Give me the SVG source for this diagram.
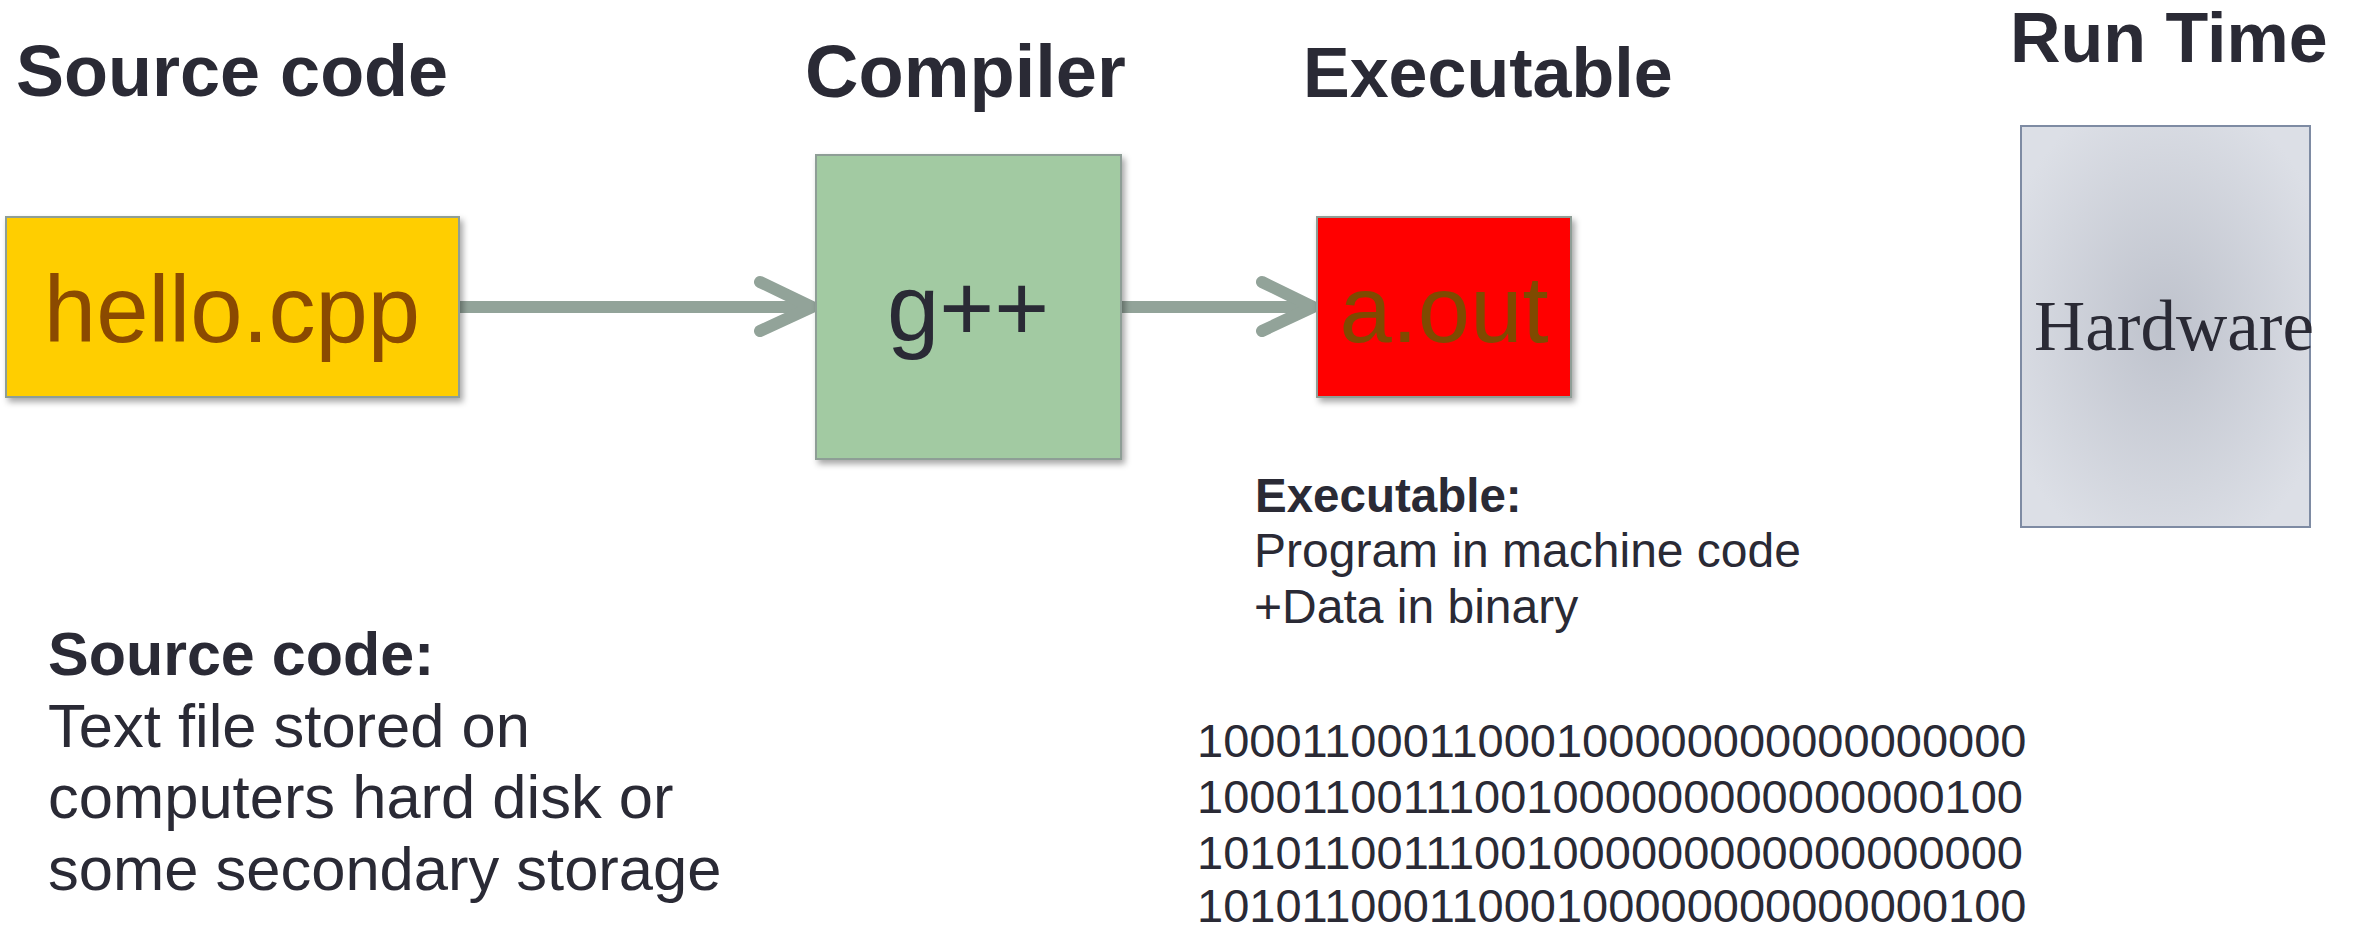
<svg xmlns="http://www.w3.org/2000/svg" width="2359" height="927" viewBox="0 0 2359 927">
  <style>
    .title { font-family: "Liberation Sans", Arial, sans-serif; font-weight: bold; fill: #2A2A35; }
    .body { font-family: "Liberation Sans", Arial, sans-serif; fill: #2A2A35; }
    .boxlbl { font-family: "Liberation Sans", Arial, sans-serif; font-size: 94px; text-anchor: middle; }
    .box { stroke: #8E9E96; stroke-width: 2; filter: url(#shadow); }
    .conn { stroke: #92A399; stroke-width: 12; fill: none; stroke-linecap: round; stroke-linejoin: round; }
  </style>
  <defs>
    <filter id="shadow" x="-10%" y="-10%" width="130%" height="130%">
      <feDropShadow dx="3" dy="4" stdDeviation="3" flood-color="#000000" flood-opacity="0.35"/>
    </filter>
    <radialGradient id="hwgrad" cx="50%" cy="50%" r="60%">
      <stop offset="0" stop-color="#BEC2CC"/>
      <stop offset="1" stop-color="#DCDFE6"/>
    </radialGradient>
  </defs>
  <rect width="2359" height="927" fill="#FFFFFF"/>

  <g id="titles">
    <text class="title" x="16" y="96" font-size="72">Source code</text>
    <text class="title" x="805" y="97" font-size="74">Compiler</text>
    <text class="title" x="1303" y="97" font-size="70">Executable</text>
    <text class="title" x="2010" y="62" font-size="70">Run Time</text>
  </g>

  <g id="connectors">
    <path class="conn" d="M458,307 H808" stroke-linecap="butt"/>
    <path class="conn" d="M760,282 L812,307 L760,331"/>
    <path class="conn" d="M1121,307 H1309" stroke-linecap="butt"/>
    <path class="conn" d="M1262,282 L1313,307 L1262,331"/>
  </g>

  <g id="node-source">
    <rect class="box" x="6" y="217" width="453" height="180" fill="#FFCE00"/>
    <text class="boxlbl" x="232" y="342" fill="#8B4A00">hello.cpp</text>
  </g>

  <g id="node-compiler">
    <rect class="box" x="816" y="155" width="305" height="304" fill="#A2CAA2"/>
    <text class="boxlbl" x="968" y="340" fill="#2A2A35">g++</text>
  </g>

  <g id="node-executable">
    <rect class="box" x="1317" y="217" width="254" height="180" fill="#FF0000"/>
    <text class="boxlbl" x="1444" y="342" fill="#7F4A00">a.out</text>
  </g>

  <g id="node-hardware">
    <rect x="2021" y="126" width="289" height="401" fill="url(#hwgrad)" stroke="#7E8BA3" stroke-width="2"/>
    <text x="2174" y="350" font-family="'Liberation Serif', 'Times New Roman', serif" font-size="71" text-anchor="middle" fill="#2A2A35">Hardware</text>
  </g>

  <g id="source-note">
    <text class="title" x="48" y="675" font-size="61">Source code:</text>
    <text class="body" x="48" y="747" font-size="61.5">Text file stored on</text>
    <text class="body" x="48" y="818" font-size="61.5">computers hard disk or</text>
    <text class="body" x="48" y="890" font-size="61.5">some secondary storage</text>
  </g>

  <g id="exec-note">
    <text class="title" x="1255" y="512" font-size="47.5">Executable:</text>
    <text class="body" x="1254" y="567" font-size="48">Program in machine code</text>
    <text class="body" x="1254" y="623" font-size="48">+Data in binary</text>
  </g>

  <g id="binary">
    <text class="body" x="1197" y="757" font-size="47">10001100011000100000000000000000</text>
    <text class="body" x="1197" y="813" font-size="47">10001100111001000000000000000100</text>
    <text class="body" x="1197" y="869" font-size="47">10101100111001000000000000000000</text>
    <text class="body" x="1197" y="922" font-size="47">10101100011000100000000000000100</text>
  </g>
</svg>
